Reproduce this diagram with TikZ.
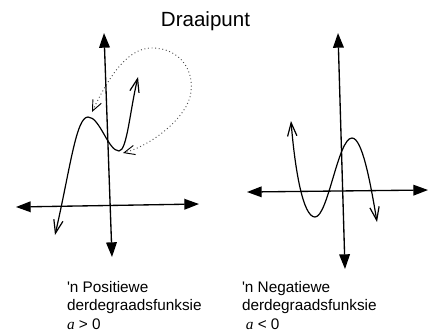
\documentclass[tikz,border=0pt]{standalone}
\usepackage{fontspec}
\setmainfont{Liberation Sans}
\newfontfamily\varfont{Liberation Serif}
\usetikzlibrary{arrows.meta}
\usetikzlibrary{positioning}

\begin{document}
\begin{tikzpicture}[x=0.75pt, y=-0.75pt,
  every node/.style={inner sep=0pt, outer sep=0pt},
  axisline/.style={draw=black, line width=1pt, {Triangle[length=11pt,width=8pt]}-{Triangle[length=11pt,width=8pt]}},
  cubic/.style={draw=black, line width=0.9pt, {Straight Barb[length=10pt,width=7pt]}-{Straight Barb[length=10pt,width=7pt]}},
  turnarrow/.style={draw=black!70, line width=0.7pt, dotted, {Straight Barb[length=8pt,width=7pt,black]}-{Straight Barb[length=8pt,width=7pt,black]}},
  caption/.style={font=\fontsize{11.5}{13.9}\selectfont, align=left, anchor=north west}
]
\useasboundingbox (0,0) rectangle (431,333);

\node (title) [anchor=base, font=\fontsize{15.4}{18}\selectfont] at (205.5,26) {Draaipunt};

% ---- left: positive cubic ----
\coordinate (LT) at (104,33);   % y-axis top
\coordinate (LB) at (112,257);  % y-axis bottom
\coordinate (LW) at (16,207);   % x-axis left
\coordinate (LE) at (199,204);  % x-axis right
\coordinate (PS) at (55,235);   % curve start
\coordinate (PMax) at (88,117);
\coordinate (PMin) at (119,151);
\coordinate (PE) at (138,77);   % curve end
\coordinate (TA) at (92,112);   % turn arrow tips
\coordinate (TB) at (123,153);

\draw[axisline] (LT) -- (LB);
\draw[axisline] (LW) -- (LE);
\draw[cubic] (PS) .. controls (70,170) and (76,117) .. (PMax)
  .. controls (100,117) and (108,151) .. (PMin)
  .. controls (127,151) and (130,110) .. (PE);
\draw[turnarrow] (TA) .. controls (112,70) and (130,48) .. (152,48)
  .. controls (178,48) and (194,68) .. (191,92)
  .. controls (188,118) and (150,146) .. (TB);

\node (pos) [caption] at (67,281) {\textquotesingle n Positiewe\\derdegraadsfunksie\\{\varfont\itshape a} > 0};

% ---- right: negative cubic ----
\coordinate (RT) at (338,33);
\coordinate (RB) at (345,269);
\coordinate (RW) at (247,192);
\coordinate (RE) at (428,190);
\coordinate (NS) at (291,121);
\coordinate (NMin) at (315,217);
\coordinate (NMax) at (352,138);
\coordinate (NE) at (377,222);

\draw[axisline] (RT) -- (RB);
\draw[axisline] (RW) -- (RE);
\draw[cubic] (NS) .. controls (295,170) and (303,217) .. (NMin)
  .. controls (328,217) and (338,138) .. (NMax)
  .. controls (362,138) and (370,180) .. (NE);

\node (neg) [caption] at (242,281) {\textquotesingle n Negatiewe\\derdegraadsfunksie\\\hspace{0.25em}{\varfont\itshape a} < 0};
\end{tikzpicture}
\end{document}
